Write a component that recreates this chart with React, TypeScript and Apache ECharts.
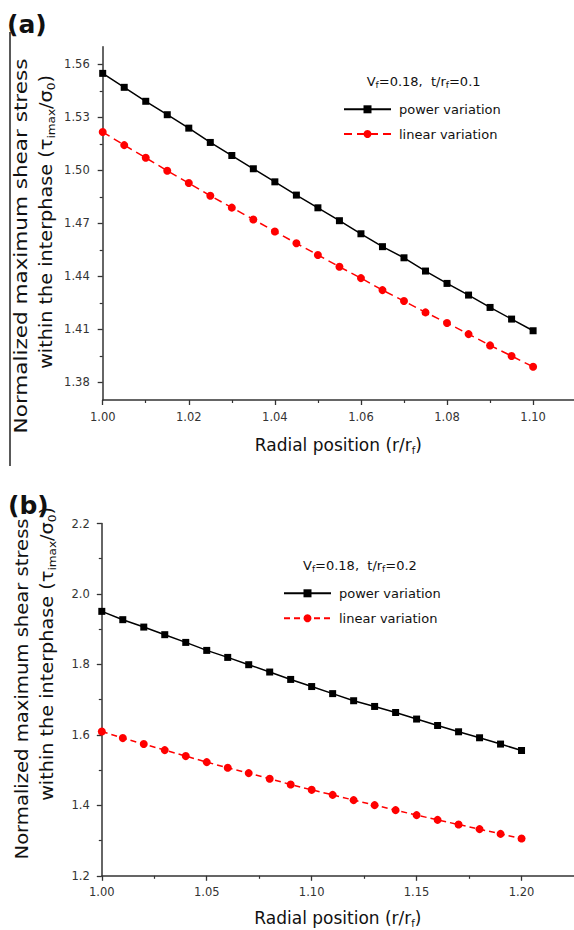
import React, { useEffect, useRef } from "react";
import * as echarts from "echarts";

// ---------- panel (a) data ----------
const aX = [1.0, 1.005, 1.01, 1.015, 1.02, 1.025, 1.03, 1.035, 1.04, 1.045, 1.05, 1.055, 1.06, 1.065, 1.07, 1.075, 1.08, 1.085, 1.09, 1.095, 1.1];
const aPower = [1.5549, 1.547, 1.5391, 1.5315, 1.5239, 1.5158, 1.5084, 1.5009, 1.4935, 1.486, 1.4788, 1.4715, 1.4641, 1.4568, 1.4505, 1.443, 1.436, 1.4294, 1.4224, 1.4158, 1.4092];
const aLinear = [1.5217, 1.5143, 1.5071, 1.4998, 1.4928, 1.4856, 1.4789, 1.4722, 1.4654, 1.4587, 1.4521, 1.4454, 1.439, 1.4322, 1.426, 1.4196, 1.4136, 1.4073, 1.4009, 1.3949, 1.3888];
const aXLabels = [1.0, 1.02, 1.04, 1.06, 1.08, 1.1];
const aXMinor = [1.01, 1.03, 1.05, 1.07, 1.09];
const aYLabels = [1.38, 1.41, 1.44, 1.47, 1.5, 1.53, 1.56];
const aYMinor = [1.395, 1.425, 1.455, 1.485, 1.515, 1.545];

// ---------- panel (b) data ----------
const bX = [1.0, 1.01, 1.02, 1.03, 1.04, 1.05, 1.06, 1.07, 1.08, 1.09, 1.1, 1.11, 1.12, 1.13, 1.14, 1.15, 1.16, 1.17, 1.18, 1.19, 1.2];
const bPower = [1.9506, 1.927, 1.906, 1.8844, 1.8625, 1.8398, 1.8199, 1.7992, 1.7784, 1.7574, 1.7372, 1.7171, 1.6969, 1.6807, 1.6636, 1.6449, 1.6267, 1.6088, 1.5918, 1.5739, 1.5557];
const bLinear = [1.6097, 1.5909, 1.5739, 1.5568, 1.5398, 1.5227, 1.5065, 1.4915, 1.4753, 1.4591, 1.444, 1.4298, 1.4148, 1.4006, 1.3864, 1.3722, 1.3588, 1.3455, 1.3324, 1.319, 1.3057];
const bXLabels = [1.0, 1.05, 1.1, 1.15, 1.2];
const bXMinor = [1.025, 1.075, 1.125, 1.175];
const bYLabels = [1.2, 1.4, 1.6, 1.8, 2.0, 2.2];
const bYMinor = [1.3, 1.5, 1.7, 1.9, 2.1];

const seriesNames = ["power variation", "linear variation"];
const panelLabels = ["(a)", "(b)"];
const subtitles = ["V{sub|f}=0.18,  t/r{sub|f}=0.1", "V{sub|f}=0.18,  t/r{sub|f}=0.2"];
const xTitle = "Radial position (r/r{sub|f})";
const yTitle1 = "Normalized maximum shear stress";
const yTitle2 = "within the interphase (τ{sub|imax}/σ{sub|0})";

const FONT = "DejaVu Sans";
const AXIS_COLOR = "#333";
const LABEL_COLOR = "#333";

function mainAxis(
  gridIndex: number,
  min: number,
  max: number,
  labels: number[],
  digits: number,
  margin: number,
  extra: any
) {
  return {
    type: "value",
    gridIndex,
    min,
    max,
    axisLine: { show: true, onZero: false, lineStyle: { color: AXIS_COLOR, width: 1.5 } },
    axisTick: { show: true, inside: false, length: 5, customValues: labels, lineStyle: { color: AXIS_COLOR, width: 1.3 } },
    axisLabel: {
      show: true,
      customValues: labels,
      margin,
      formatter: (v: number) => v.toFixed(digits),
      fontFamily: FONT,
      fontSize: 11.5,
      color: LABEL_COLOR,
    },
    splitLine: { show: false },
    ...extra,
  };
}

function minorAxis(gridIndex: number, min: number, max: number, ticks: number[], extra: any) {
  return {
    type: "value",
    gridIndex,
    min,
    max,
    axisLine: { show: false, onZero: false },
    axisTick: { show: true, inside: false, length: 3, customValues: ticks, lineStyle: { color: AXIS_COLOR, width: 1.2 } },
    axisLabel: { show: false },
    splitLine: { show: false },
    ...extra,
  };
}

const subRich = {
  sub: { fontFamily: FONT, fontSize: 10, verticalAlign: "bottom", lineHeight: 21, color: "#111" },
};

function xName(gap: number) {
  return {
    name: xTitle,
    nameLocation: "middle",
    nameGap: gap,
    nameTextStyle: {
      fontFamily: FONT,
      fontSize: 17,
      color: "#111",
      lineHeight: 21,
      rich: subRich,
    },
  };
}

function yTitleText(x: number, y: number, text: string, scale: number) {
  return {
    type: "text",
    x,
    y,
    rotation: Math.PI / 2,
    scaleX: scale,
    scaleY: 1,
    style: {
      text,
      fontFamily: FONT,
      fontSize: 17.5,
      fill: "#111",
      lineHeight: 21,
      align: "center",
      verticalAlign: "middle",
      textAlign: "center",
      textVerticalAlign: "middle",
      rich: {
        sub: { fontFamily: FONT, fontSize: 11, verticalAlign: "bottom", lineHeight: 21, fill: "#111" },
      },
    },
  };
}

export default function App() {
  const ref = useRef<HTMLDivElement>(null);

  useEffect(() => {
    if (!ref.current) return;
    const chart = echarts.init(ref.current, undefined, { renderer: "svg" });

    const option: any = {
      animation: false,
      backgroundColor: "#ffffff",
      grid: [
        { left: 102.7, top: 46.7, width: 471.3, height: 353.3, outerBoundsMode: "none", containLabel: false },
        { left: 101.8, top: 523.5, width: 472.2, height: 352.3, outerBoundsMode: "none", containLabel: false },
      ],
      xAxis: [
        mainAxis(0, 1.0, 1.1095, aXLabels, 2, 11, { position: "bottom", ...xName(34) }),
        minorAxis(0, 1.0, 1.1095, aXMinor, { position: "bottom" }),
        mainAxis(1, 1.0, 1.225, bXLabels, 2, 10, { position: "bottom", ...xName(32) }),
        minorAxis(1, 1.0, 1.225, bXMinor, { position: "bottom" }),
      ],
      yAxis: [
        mainAxis(0, 1.37, 1.57, aYLabels, 2, 13, { position: "left" }),
        minorAxis(0, 1.37, 1.57, aYMinor, { position: "left" }),
        mainAxis(1, 1.2, 2.2, bYLabels, 1, 12, { position: "left" }),
        minorAxis(1, 1.2, 2.2, bYMinor, { position: "left" }),
      ],
      title: [
        {
          text: subtitles[0],
          left: 366.7,
          top: 73.7,
          padding: 0,
          textStyle: { fontFamily: FONT, fontSize: 13, fontWeight: "normal", color: "#111", lineHeight: 16, rich: { sub: { fontFamily: FONT, fontSize: 9, verticalAlign: "bottom", lineHeight: 16, color: "#111" } } },
        },
        {
          text: subtitles[1],
          left: 303,
          top: 557,
          padding: 0,
          textStyle: { fontFamily: FONT, fontSize: 13, fontWeight: "normal", color: "#111", lineHeight: 16, rich: { sub: { fontFamily: FONT, fontSize: 9, verticalAlign: "bottom", lineHeight: 16, color: "#111" } } },
        },
      ],
      legend: [
        {
          data: seriesNames,
          orient: "vertical",
          left: 343,
          top: 102.3,
          padding: 0,
          itemWidth: 47,
          itemHeight: 10,
          itemGap: 10.7,
          selectedMode: false,
          textStyle: { fontFamily: FONT, fontSize: 13, color: "#111", lineHeight: 14, padding: [0, 0, 0, 3] },
        },
        {
          data: seriesNames.map((n) => n + " (b)"),
          formatter: (n: string) => n.replace(" (b)", ""),
          orient: "vertical",
          left: 283,
          top: 586.3,
          padding: 0,
          itemWidth: 47,
          itemHeight: 10,
          itemGap: 11,
          selectedMode: false,
          textStyle: { fontFamily: FONT, fontSize: 13, color: "#111", lineHeight: 14, padding: [0, 0, 0, 3] },
        },
      ],
      graphic: [
        { type: "line", shape: { x1: 10, y1: 32, x2: 10, y2: 466 }, style: { stroke: "#222", lineWidth: 1.5 } },
        {
          type: "text",
          x: 7,
          y: 24,
          style: { text: panelLabels[0], fontFamily: FONT, fontSize: 25, fontWeight: "bold", fill: "#111", verticalAlign: "middle", textVerticalAlign: "middle" },
        },
        {
          type: "text",
          x: 8,
          y: 505,
          style: { text: panelLabels[1], fontFamily: FONT, fontSize: 25, fontWeight: "bold", fill: "#111", verticalAlign: "middle", textVerticalAlign: "middle" },
        },
        yTitleText(21, 246, yTitle1, 1.23),
        yTitleText(46, 222, yTitle2, 1.1),
        yTitleText(22, 689, yTitle1, 1.12),
        yTitleText(47, 654, yTitle2, 1.1),
      ],
      series: [
        {
          type: "line",
          name: seriesNames[0],
          xAxisIndex: 0,
          yAxisIndex: 0,
          data: aX.map((x, i) => [x, aPower[i]]),
          symbol: "rect",
          symbolSize: 7,
          lineStyle: { color: "#000", width: 1.5 },
          itemStyle: { color: "#000" },
        },
        {
          type: "line",
          name: seriesNames[1],
          xAxisIndex: 0,
          yAxisIndex: 0,
          data: aX.map((x, i) => [x, aLinear[i]]),
          symbol: "circle",
          symbolSize: 8,
          lineStyle: { color: "#ff0000", width: 1.5, type: [8, 5] },
          itemStyle: { color: "#ff0000" },
        },
        {
          type: "line",
          name: seriesNames[0] + " (b)",
          xAxisIndex: 2,
          yAxisIndex: 2,
          data: bX.map((x, i) => [x, bPower[i]]),
          symbol: "rect",
          symbolSize: 7,
          lineStyle: { color: "#000", width: 1.5 },
          itemStyle: { color: "#000" },
        },
        {
          type: "line",
          name: seriesNames[1] + " (b)",
          xAxisIndex: 2,
          yAxisIndex: 2,
          data: bX.map((x, i) => [x, bLinear[i]]),
          symbol: "circle",
          symbolSize: 8,
          lineStyle: { color: "#ff0000", width: 1.5, type: [6, 4] },
          itemStyle: { color: "#ff0000" },
        },
      ],
    };

    chart.setOption(option);
    return () => chart.dispose();
  }, []);

  return (
    <div
      ref={ref}
      style={{ position: "absolute", left: 0, top: 0, width: 574, height: 930, background: "#fff" }}
    />
  );
}
